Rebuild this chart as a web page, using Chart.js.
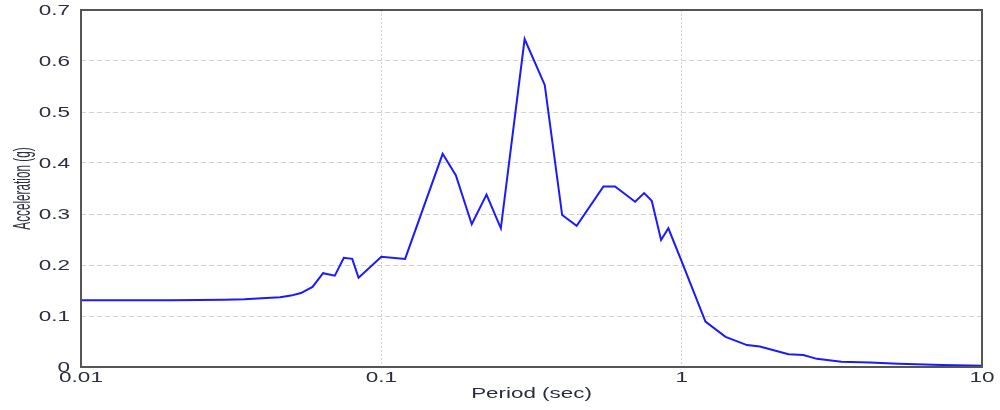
<!DOCTYPE html>
<html>
<head>
<meta charset="utf-8">
<script src="https://cdn.jsdelivr.net/npm/chart.js@4.4.1/dist/chart.umd.min.js"></script>
<style>
  html, body { margin: 0; padding: 0; background: #fff; }
  #wrap { width: 1000px; height: 410px; }
</style>
</head>
<body>
<div id="wrap"><canvas id="c" width="1000" height="410"></canvas></div>
<script>
// Response spectrum: spectral acceleration vs. period
const periods = [0.01, 0.02, 0.03, 0.035, 0.04, 0.046, 0.05, 0.054, 0.059, 0.064,
  0.07, 0.075, 0.08, 0.084, 0.1, 0.12, 0.16, 0.177, 0.2, 0.224,
  0.25, 0.3, 0.35, 0.4, 0.447, 0.549, 0.6, 0.7, 0.75, 0.795,
  0.854, 0.903, 1.0, 1.2, 1.4, 1.65, 1.82, 2.27, 2.54, 2.82,
  3.4, 4.24, 5.27, 7.35, 10];
const accel = [0.131, 0.131, 0.132, 0.133, 0.135, 0.137, 0.140, 0.145, 0.157, 0.184,
  0.179, 0.214, 0.212, 0.175, 0.216, 0.212, 0.418, 0.376, 0.280, 0.338,
  0.272, 0.643, 0.553, 0.298, 0.277, 0.354, 0.354, 0.324, 0.341, 0.326,
  0.249, 0.272, 0.207, 0.089, 0.059, 0.043, 0.040, 0.025, 0.0235, 0.016,
  0.0104, 0.009, 0.0065, 0.004, 0.0026];
const xTickValues = [0.01, 0.1, 1, 10];
const xTickLabels = ['0.01', '0.1', '1', '10'];
const yTickValues = [0, 0.1, 0.2, 0.3, 0.4, 0.5, 0.6, 0.7];
const yTickLabels = ['0', '0.1', '0.2', '0.3', '0.4', '0.5', '0.6', '0.7'];
const xTitle = 'Period (sec)';
const yTitle = 'Acceleration (g)';

const FONT = 'Arial, "Liberation Sans", sans-serif';
const TEXT_COLOR = '#2a2e40';
const GRID_COLOR = '#d2d2d2';

// Tick labels and axis titles are drawn with a horizontal stretch
const labelsPlugin = {
  id: 'stretchedLabels',
  afterDraw(chart) {
    const ctx = chart.ctx;
    const xs = chart.scales.x, ys = chart.scales.y;
    const area = chart.chartArea;
    ctx.save();
    ctx.fillStyle = TEXT_COLOR;
    ctx.font = '15px ' + FONT;
    // y tick labels
    ctx.textAlign = 'right';
    ctx.textBaseline = 'middle';
    yTickValues.forEach((v, i) => {
      const py = ys.getPixelForValue(v);
      ctx.save();
      ctx.translate(area.left - 11, py);
      ctx.scale(1.5, 1);
      ctx.fillText(yTickLabels[i], 0, 0.5);
      ctx.restore();
    });
    // x tick labels
    ctx.textAlign = 'center';
    xTickValues.forEach((v, i) => {
      const px = xs.getPixelForValue(v);
      ctx.save();
      ctx.translate(px, area.bottom + 11);
      ctx.scale(1.5, 1);
      ctx.fillText(xTickLabels[i], 0, 0);
      ctx.restore();
    });
    // x title
    ctx.font = '14px ' + FONT;
    ctx.save();
    ctx.translate((area.left + area.right) / 2, area.bottom + 27);
    ctx.scale(1.6, 1);
    ctx.fillText(xTitle, 0, 0);
    ctx.restore();
    // y title (rotated)
    ctx.font = '12px ' + FONT;
    ctx.textBaseline = 'alphabetic';
    ctx.save();
    ctx.translate(30, (area.top + area.bottom) / 2);
    ctx.rotate(-Math.PI / 2);
    ctx.scale(0.98, 2.0);
    ctx.fillText(yTitle, 0, 0);
    ctx.restore();
    ctx.restore();
  }
};

// Dark frame around the plot area
const framePlugin = {
  id: 'frame',
  afterDatasetsDraw(chart) {
    const { ctx, chartArea: a } = chart;
    ctx.save();
    ctx.strokeStyle = '#555555';
    ctx.lineWidth = 2;
    ctx.strokeRect(a.left, a.top, a.right - a.left, a.bottom - a.top);
    ctx.restore();
  }
};

new Chart(document.getElementById('c'), {
  type: 'line',
  data: {
    datasets: [{
      data: periods.map((p, i) => ({ x: p, y: accel[i] })),
      borderColor: '#1a1aff',
      borderWidth: 2,
      pointRadius: 0,
      tension: 0,
      fill: false
    }]
  },
  options: {
    responsive: false,
    animation: false,
    layout: { padding: { top: 10, right: 18, left: 0, bottom: 0 } },
    plugins: { legend: { display: false }, tooltip: { enabled: false } },
    scales: {
      x: {
        type: 'logarithmic',
        min: 0.01,
        max: 10,
        afterBuildTicks(scale) {
          scale.ticks = xTickValues.map(v => ({ value: v }));
        },
        afterFit(scale) { scale.height = 43; },
        ticks: { display: false },
        grid: {
          drawTicks: false,
          lineWidth: 1,
          color: ctx => (ctx.tick && (ctx.tick.value === 0.1 || ctx.tick.value === 1)) ? GRID_COLOR : 'transparent'
        },
        border: { display: false, dash: [2, 2] }
      },
      y: {
        min: 0,
        max: 0.7,
        afterBuildTicks(scale) {
          scale.ticks = yTickValues.map(v => ({ value: v }));
        },
        afterFit(scale) { scale.width = 81; },
        ticks: { display: false },
        grid: {
          drawTicks: false,
          lineWidth: 1,
          color: ctx => (ctx.tick && ctx.tick.value > 0 && ctx.tick.value < 0.7) ? GRID_COLOR : 'transparent'
        },
        border: { display: false, dash: [5, 3] }
      }
    }
  },
  plugins: [framePlugin, labelsPlugin]
});
</script>
</body>
</html>
